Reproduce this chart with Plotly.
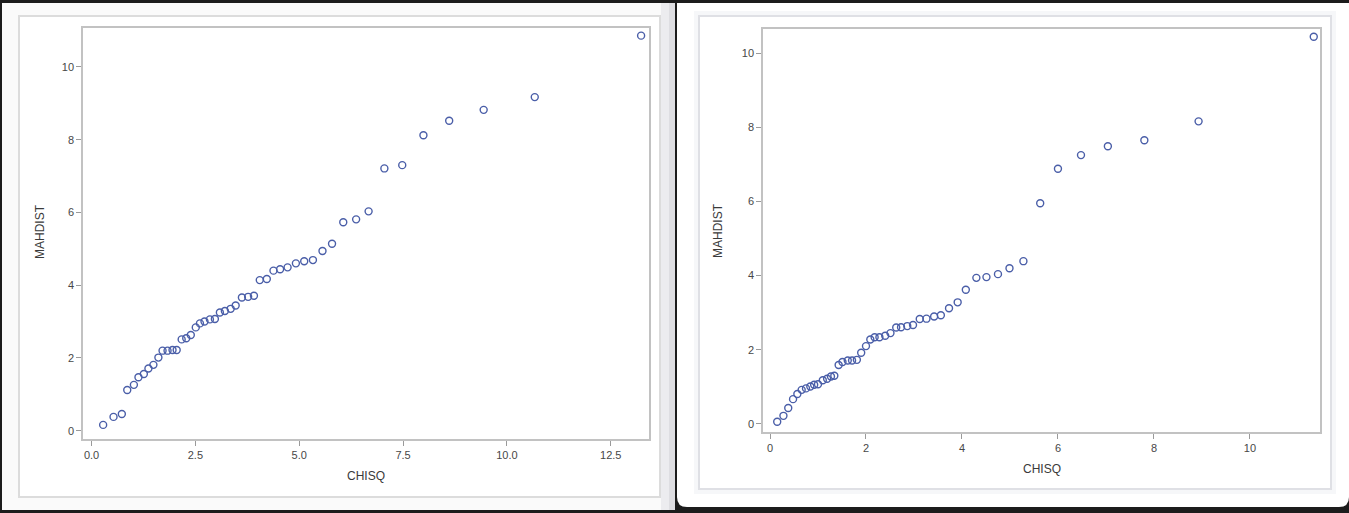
import plotly.graph_objects as go

# ---------------- data ----------------
left_chisq = [0.28, 0.53, 0.73, 0.86, 1.02, 1.13, 1.26, 1.37, 1.49, 1.61,
              1.71, 1.83, 1.95, 2.05, 2.17, 2.28, 2.39, 2.51, 2.61, 2.72,
              2.85, 2.97, 3.09, 3.21, 3.35, 3.47, 3.62, 3.77, 3.91, 4.05,
              4.22, 4.38, 4.54, 4.72, 4.92, 5.12, 5.33, 5.56, 5.79, 6.06,
              6.37, 6.67, 7.05, 7.48, 7.99, 8.61, 9.44, 10.67, 13.23]
left_mahdist = [0.16, 0.38, 0.46, 1.12, 1.26, 1.47, 1.56, 1.71, 1.81, 2.01,
                2.20, 2.20, 2.22, 2.22, 2.51, 2.54, 2.63, 2.84, 2.95, 3.00,
                3.06, 3.07, 3.25, 3.29, 3.35, 3.44, 3.66, 3.68, 3.71, 4.14,
                4.17, 4.40, 4.44, 4.49, 4.60, 4.66, 4.69, 4.94, 5.14, 5.73,
                5.81, 6.03, 7.21, 7.30, 8.12, 8.52, 8.82, 9.17, 10.86]

right_chisq = [0.15, 0.28, 0.38, 0.48, 0.57, 0.66, 0.75, 0.84, 0.92, 1.00,
               1.10, 1.19, 1.27, 1.34, 1.43, 1.51, 1.62, 1.71, 1.81, 1.90,
               2.00, 2.09, 2.18, 2.28, 2.40, 2.51, 2.63, 2.73, 2.86, 2.98,
               3.12, 3.26, 3.42, 3.56, 3.73, 3.91, 4.08, 4.30, 4.51, 4.75,
               4.99, 5.28, 5.63, 6.00, 6.48, 7.04, 7.80, 8.93, 11.33]
right_mahdist = [0.06, 0.22, 0.43, 0.67, 0.81, 0.92, 0.96, 1.01, 1.06, 1.07,
                 1.18, 1.22, 1.28, 1.30, 1.59, 1.67, 1.71, 1.71, 1.73, 1.92,
                 2.10, 2.28, 2.34, 2.34, 2.38, 2.45, 2.60, 2.61, 2.64, 2.67,
                 2.83, 2.84, 2.90, 2.93, 3.12, 3.28, 3.62, 3.94, 3.96, 4.04,
                 4.20, 4.39, 5.95, 6.88, 7.25, 7.49, 7.65, 8.16, 10.44]

left_xticks = [0.0, 2.5, 5.0, 7.5, 10.0, 12.5]
left_yticks = [0, 2, 4, 6, 8, 10]
right_xticks = [0, 2, 4, 6, 8, 10]
right_yticks = [0, 2, 4, 6, 8, 10]
x_title = "CHISQ"
y_title = "MAHDIST"

# ---------------- layout helpers ----------------
W, H = 1349, 513
def px(x):
    return x / W
def py(y):
    return 1 - y / H

MARKER_COLOR = "#4a5ea8"
FONT = "Liberation Sans, Arial, sans-serif"
TICK_COLOR = "#474747"
FRAME = "#c2c2c2"

fig = go.Figure()
fig.add_trace(go.Scatter(x=left_chisq, y=left_mahdist, mode="markers",
                         xaxis="x", yaxis="y",
                         marker=dict(symbol="circle-open", size=7, color=MARKER_COLOR,
                                     line=dict(width=1.4, color=MARKER_COLOR)),
                         showlegend=False))
fig.add_trace(go.Scatter(x=right_chisq, y=right_mahdist, mode="markers",
                         xaxis="x2", yaxis="y2",
                         marker=dict(symbol="circle-open", size=7, color=MARKER_COLOR,
                                     line=dict(width=1.4, color=MARKER_COLOR)),
                         showlegend=False))

axis_common = dict(showgrid=False, zeroline=False, showline=True, mirror=True,
                   linecolor=FRAME, linewidth=1.5, ticks="outside", ticklen=5,
                   tickwidth=1, tickcolor="#9a9a9a",
                   tickfont=dict(family=FONT, size=11, color=TICK_COLOR))

fig.update_layout(
    width=W, height=H, margin=dict(l=0, r=0, t=0, b=0),
    paper_bgcolor="#1c1c1c", plot_bgcolor="white",
    xaxis=dict(domain=[px(83), px(649)], range=[-0.205, 13.42],
               tickvals=left_xticks, tickformat=".1f", anchor="y", **axis_common),
    yaxis=dict(domain=[py(439), py(28)], range=[-0.228, 11.07],
               tickvals=left_yticks, anchor="x", **axis_common),
    xaxis2=dict(domain=[px(763), px(1320)], range=[-0.146, 11.46],
                tickvals=right_xticks, anchor="y2", **axis_common),
    yaxis2=dict(domain=[py(432), py(29)], range=[-0.216, 10.65],
                tickvals=right_yticks, anchor="x2", **axis_common),
)

shapes = []
def rect(x0, y0, x1, y1, fill, line=None, lw=0):
    d = dict(type="rect", xref="paper", yref="paper",
             x0=px(x0), x1=px(x1), y0=py(y1), y1=py(y0),
             fillcolor=fill, layer="below",
             line=dict(width=lw, color=line if line else fill))
    shapes.append(d)

# left screenshot panel
rect(2, 3, 675, 510, "#fafafa")
rect(661, 3, 669, 510, "#ececef")
rect(669, 3, 675, 510, "#dedee2")
rect(19, 16, 660, 497, "white", "#dcdcdc", 2)
# right screenshot panel with rounded bottom corners
r = 10
shapes.append(dict(type="path", xref="paper", yref="paper", layer="below",
                   path=(f"M {px(677)},{py(3)} L {px(1349)},{py(3)} "
                         f"L {px(1349)},{py(507 - r)} Q {px(1349)},{py(507)} {px(1349 - r)},{py(507)} "
                         f"L {px(677 + r)},{py(507)} Q {px(677)},{py(507)} {px(677)},{py(507 - r)} Z"),
                   fillcolor="white", line=dict(width=0)))
rect(694, 11, 1336, 494, "#f6f7f9")
rect(699, 16, 1331, 489, "white", "#dfe0e5", 2)
fig.update_layout(shapes=shapes)

ann_font = dict(family=FONT, size=12, color="#3a3a3a")
annotations = [
    dict(text=x_title, x=px(366), y=py(476), xref="paper", yref="paper",
         showarrow=False, font=ann_font, xanchor="center", yanchor="middle"),
    dict(text=y_title, x=px(40), y=py(232), xref="paper", yref="paper",
         showarrow=False, font=ann_font, textangle=-90, xanchor="center", yanchor="middle"),
    dict(text=x_title, x=px(1042), y=py(469), xref="paper", yref="paper",
         showarrow=False, font=ann_font, xanchor="center", yanchor="middle"),
    dict(text=y_title, x=px(718), y=py(231), xref="paper", yref="paper",
         showarrow=False, font=ann_font, textangle=-90, xanchor="center", yanchor="middle"),
]
fig.update_layout(annotations=annotations)

fig.write_html("out.html",
               config={"displayModeBar": False},
               post_script="document.body.style.margin='0';"
                           "document.body.style.background='#1c1c1c';"
                           "document.body.style.overflow='hidden';")
